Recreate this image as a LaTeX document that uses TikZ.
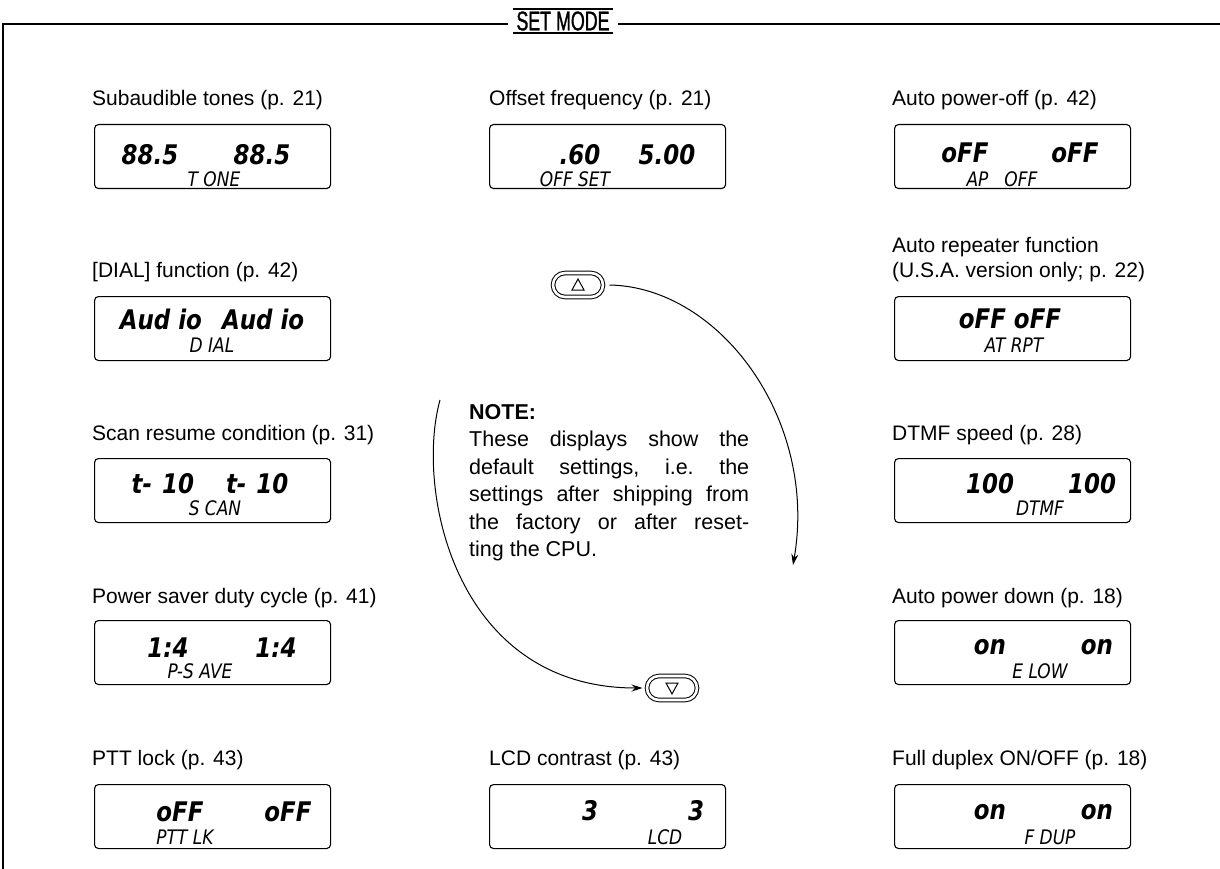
\documentclass[tikz,border=0pt]{standalone}
\usepackage{fontspec}
\setmainfont{Liberation Sans}
\setsansfont{Liberation Sans}
\newfontfamily\lcdbig{DejaVu Sans}[FakeStretch=0.85]
\newfontfamily\titlefont{Liberation Sans}[FakeStretch=0.66,FakeBold=1.2]
\usetikzlibrary{shapes.misc,arrows.meta,calc}
\begin{document}
\begin{tikzpicture}[x=1pt,y=-1pt,
  lbl/.style={font=\fontsize{21}{25}\selectfont, inner sep=0pt, anchor=west},
  lcd/.style={draw, line width=1.1pt, rounded corners=4pt, anchor=north west, minimum width=236pt, minimum height=64pt, inner sep=0pt},
  seg/.style={font=\lcdbig\bfseries\itshape\fontsize{27}{29}\selectfont, inner sep=0pt},
  segs/.style={font=\lcdbig\itshape\fontsize{20}{22}\selectfont, inner sep=0pt},
  btn/.style={draw, rounded rectangle, double, double distance=2.6pt, line width=1pt, minimum width=50pt, minimum height=24pt, inner sep=0pt},
  flow/.style={line width=1pt, -{Stealth[length=11pt,width=7pt]}}]
\useasboundingbox (0,0) rectangle (1220,869);
% frame and title
\node[font=\titlefont\fontsize{27}{29}\selectfont, inner sep=0pt] (title) at (563,21) {SET MODE};
\coordinate (tl) at (3,24);
\coordinate (tr) at (1220,24);
\coordinate (bl) at (3,869);
\draw[line width=1.5pt] (bl) -- (tl) -- ([xshift=-8pt]title.west |- tl);
\draw[line width=1.5pt] ([xshift=8pt]title.east |- tr) -- (tr);
\draw[line width=1.5pt] ([xshift=-3pt,yshift=2pt]title.north west) -- ([xshift=3pt,yshift=2pt]title.north east);
\draw[line width=1.5pt] ([xshift=-3pt,yshift=-2pt]title.south west) -- ([xshift=3pt,yshift=-2pt]title.south east);

% ---------- left column ----------
\node[lbl] (l1) at (92,100) {Subaudible tones (p. 21)};
\node[lcd] (tone) at (94,124) {};
\node[seg] (tone1) at (150,155) {88.5};
\node[seg] (tone2) at (262,155) {88.5};
\node[segs] (tone3) at (214,179) {T ONE};

\node[lbl] (l2) at (92,272) {[DIAL] function (p. 42)};
\node[lcd] (dial) at (94,296) {};
\node[seg] (dial1) at (212,319) {Aud\hspace{8pt}io\hspace{20pt}Aud\hspace{8pt}io};
\node[segs] (dial2) at (212,345) {D IAL};

\node[lbl] (l3) at (92,435) {Scan resume condition (p. 31)};
\node[lcd] (scan) at (94,458) {};
\node[seg] (scan1) at (210,484) {t-\hspace{10pt}10\hspace{32pt}t-\hspace{10pt}10};
\node[segs] (scan2) at (215,508) {S CAN};

\node[lbl] (l4) at (92,598) {Power saver duty cycle (p. 41)};
\node[lcd] (psave) at (94,620) {};
\node[seg] (psave1) at (168,648) {1:4};
\node[seg] (psave2) at (276,648) {1:4};
\node[segs] (psave3) at (200,671) {P-S AVE};

\node[lbl] (l5) at (92,760) {PTT lock (p. 43)};
\node[lcd] (ptt) at (94,784) {};
\node[seg] (ptt1) at (180,812) {oFF};
\node[seg] (ptt2) at (288,812) {oFF};
\node[segs] (ptt3) at (185,837) {PTT LK};

% ---------- middle column ----------
\node[lbl] (m1) at (489,100) {Offset frequency (p. 21)};
\node[lcd] (offs) at (489,124) {};
\node[seg] (offs1) at (580,155) {.60};
\node[seg] (offs2) at (667,155) {5.00};
\node[segs] (offs3) at (575,179) {OFF SET};

\node[lbl] (m5) at (489,760) {LCD contrast (p. 43)};
\node[lcd] (lcdc) at (489,784) {};
\node[seg] (lcdc1) at (590,811) {3};
\node[seg] (lcdc2) at (696,811) {3};
\node[segs] (lcdc3) at (665,837) {LCD};

% buttons and arrows
\node[btn] (up) at (578,285) {};
\draw[line width=1pt] ($(up.center)+(-6,5)$) -- ($(up.center)+(6,5)$) -- ($(up.center)+(0,-6)$) -- cycle;
\node[btn] (down) at (672,688) {};
\draw[line width=1pt] ($(down.center)+(-6,-5)$) -- ($(down.center)+(6,-5)$) -- ($(down.center)+(0,6)$) -- cycle;
\coordinate (rend) at (793,565);
\coordinate (lstart) at (440,400);
\draw[flow] ([xshift=6pt]up.east) .. controls (720,287) and (818,420) .. (rend);
\draw[flow] (lstart) .. controls (415,490) and (455,688) .. ([xshift=-4pt]down.west);

% note
\node[inner sep=0pt, anchor=north west, font=\fontsize{21.5}{27.5}\selectfont, align=left] (note) at (469,404) {%
\textbf{NOTE:}\\
\hbox to 280pt{These\hfill displays\hfill show\hfill the}\\
\hbox to 280pt{default\hfill settings,\hfill i.e.\hfill the}\\
\hbox to 280pt{settings\hfill after\hfill shipping\hfill from}\\
\hbox to 280pt{the\hfill factory\hfill or\hfill after\hfill reset-}\\
ting the CPU.};

% ---------- right column ----------
\node[lbl] (r1) at (892,100) {Auto power-off (p. 42)};
\node[lcd] (apo) at (894,124) {};
\node[seg] (apo1) at (965,153) {oFF};
\node[seg] (apo2) at (1075,153) {oFF};
\node[segs] (apo3) at (1002,179) {AP\hspace{16pt}OFF};

\node[lbl, align=left, anchor=south west] (r2) at (892,282) {Auto repeater function\\(U.S.A. version only; p. 22)};
\node[lcd] (atrpt) at (894,296) {};
\node[seg] (atrpt1) at (1010,319) {oFF\hspace{8pt}oFF};
\node[segs] (atrpt2) at (1014,345) {AT RPT};

\node[lbl] (r3) at (892,435) {DTMF speed (p. 28)};
\node[lcd] (dtmf) at (894,458) {};
\node[seg] (dtmf1) at (990,484) {100};
\node[seg] (dtmf2) at (1092,484) {100};
\node[segs] (dtmf3) at (1040,508) {DTMF};

\node[lbl] (r4) at (892,598) {Auto power down (p. 18)};
\node[lcd] (elow) at (894,620) {};
\node[seg] (elow1) at (990,647) {on};
\node[seg] (elow2) at (1097,647) {on};
\node[segs] (elow3) at (1040,671) {E LOW};

\node[lbl] (r5) at (892,760) {Full duplex ON/OFF (p. 18)};
\node[lcd] (fdup) at (894,784) {};
\node[seg] (fdup1) at (990,812) {on};
\node[seg] (fdup2) at (1097,812) {on};
\node[segs] (fdup3) at (1050,837) {F DUP};
\end{tikzpicture}
\end{document}
